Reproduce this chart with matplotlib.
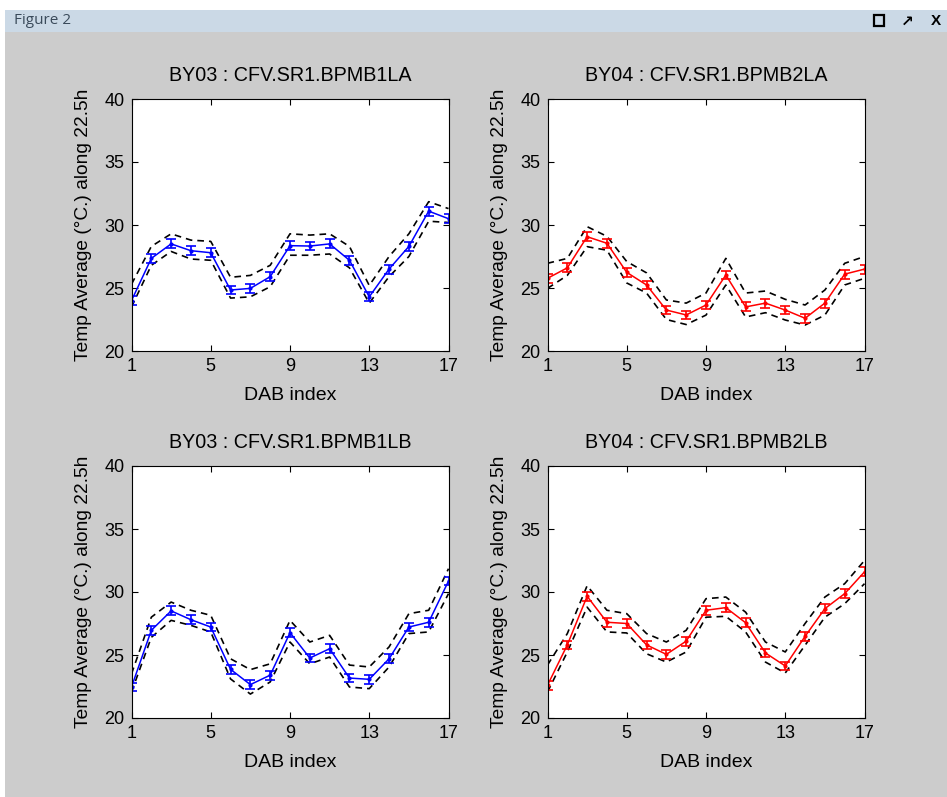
import numpy as np
import matplotlib
matplotlib.use("Agg")
import matplotlib.pyplot as plt
from matplotlib.patches import Rectangle

plt.rcParams['font.family'] = ['Liberation Sans', 'DejaVu Sans']

DAB = np.arange(1, 18)

TITLES = ["BY03 : CFV.SR1.BPMB1LA", "BY04 : CFV.SR1.BPMB2LA",
          "BY03 : CFV.SR1.BPMB1LB", "BY04 : CFV.SR1.BPMB2LB"]
COLORS = ["blue", "red", "blue", "red"]

# mean temperature per DAB, with upper / lower dashed envelope
mean_1la = [24.0, 27.35, 28.5, 27.96, 27.8, 24.84, 24.97, 25.9, 28.36, 28.33, 28.5, 27.2, 24.3, 26.5, 28.3, 31.1, 30.5]
upper_1la = [25.3, 28.3, 29.3, 28.8, 28.7, 25.85, 26.0, 26.8, 29.3, 29.2, 29.3, 28.3, 25.2, 27.5, 29.3, 31.85, 31.3]
lower_1la = [23.5, 26.8, 27.9, 27.3, 27.2, 24.2, 24.3, 25.1, 27.6, 27.6, 27.7, 26.6, 23.8, 25.9, 27.5, 30.3, 30.2]

mean_2la = [25.77, 26.6, 29.07, 28.55, 26.24, 25.24, 23.25, 22.86, 23.65, 26.03, 23.5, 23.8, 23.25, 22.6, 23.8, 26.1, 26.5]
upper_2la = [26.96, 27.35, 29.87, 29.1, 27.1, 26.2, 24.05, 23.8, 24.6, 27.35, 24.6, 24.76, 24.1, 23.65, 24.84, 26.96, 27.5]
lower_2la = [24.97, 26.0, 28.28, 28.0, 25.4, 24.6, 22.5, 22.1, 22.85, 25.24, 22.7, 23.04, 22.46, 22.06, 22.85, 25.24, 25.77]

mean_1lb = [22.46, 26.96, 28.5, 27.8, 27.22, 23.86, 22.65, 23.4, 26.77, 24.76, 25.5, 23.17, 23.07, 24.7, 27.22, 27.6, 30.87]
upper_1lb = [23.5, 28.0, 29.2, 28.55, 28.15, 24.7, 23.84, 24.3, 27.75, 26.03, 26.56, 24.2, 24.05, 25.64, 28.28, 28.55, 31.85]
lower_1lb = [22.06, 26.4, 27.75, 27.35, 26.83, 23.1, 21.9, 22.86, 26.03, 24.3, 24.84, 22.46, 22.33, 24.05, 26.7, 26.83, 29.87]

mean_2lb = [22.6, 25.8, 29.66, 27.6, 27.5, 25.8, 25.05, 26.1, 28.55, 28.76, 27.56, 25.16, 24.13, 26.48, 28.68, 29.87, 31.6]
upper_2lb = [24.2, 26.7, 30.5, 28.55, 28.28, 26.7, 26.03, 26.96, 29.47, 29.6, 28.4, 26.03, 25.24, 27.5, 29.6, 30.66, 32.5]
lower_2lb = [22.06, 25.24, 28.8, 26.83, 26.75, 25.1, 24.44, 25.24, 28.0, 28.07, 26.83, 24.44, 23.57, 25.77, 28.0, 29.07, 30.66]

# error bar half-widths
err = [0.35] * 17

MEANS = [mean_1la, mean_2la, mean_1lb, mean_2lb]
UPPERS = [upper_1la, upper_2la, upper_1lb, upper_2lb]
LOWERS = [lower_1la, lower_2la, lower_1lb, lower_2lb]

W, H = 947, 797
fig = plt.figure(figsize=(W / 100, H / 100), dpi=100)
fig.patch.set_facecolor("white")

# window chrome: gray client area + title bar
fig.add_artist(Rectangle((5 / W, 0), 1, 1 - 32 / H, transform=fig.transFigure,
                         facecolor="#cccccc", edgecolor="none", zorder=-10))
fig.add_artist(Rectangle((5 / W, 1 - 32 / H), 1, 22 / H, transform=fig.transFigure,
                         facecolor="#cbd9e6", edgecolor="none", zorder=-10))
fig.text(14 / W, 1 - 21 / H, "Figure 2", fontsize=11, color="#3a4a5a",
         va="center", ha="left", family=["Open Sans", "DejaVu Sans"])
fig.add_artist(Rectangle((874 / W, 1 - 26 / H), 10 / W, 11 / H, transform=fig.transFigure,
                         facecolor="none", edgecolor="black", lw=1.6))
fig.text(907 / W, 1 - 21 / H, "\u2197", fontsize=11, ha="center", va="center",
         family=["DejaVu Sans"], fontweight="bold")
fig.text(936 / W, 1 - 21 / H, "X", fontsize=11, ha="center", va="center", fontweight="bold")

lefts = [131.5, 547.5, 131.5, 547.5]
tops = [99, 99, 466, 466]
aw, ah = 317, 252

for k in range(4):
    ax = fig.add_axes([lefts[k] / W, 1 - (tops[k] + ah) / H, aw / W, ah / H])
    ax.plot(DAB, UPPERS[k], "k--", lw=1.2, dashes=(4, 3))
    ax.plot(DAB, LOWERS[k], "k--", lw=1.2, dashes=(4, 3))
    ax.errorbar(DAB, MEANS[k], yerr=err, color=COLORS[k], lw=1.1,
                capsize=3.5, elinewidth=1.2, capthick=1.2, marker=".", ms=4)
    ax.set_xlim(1, 17)
    ax.set_ylim(20, 40)
    ax.set_xticks([1, 5, 9, 13, 17])
    ax.set_yticks([20, 25, 30, 35, 40])
    ax.tick_params(direction="in", top=True, right=True, length=4, labelsize=13, pad=5)
    for s in ax.spines.values():
        s.set_linewidth(0.8)
    ax.set_title(TITLES[k], fontsize=14.2, pad=13)
    ax.set_xlabel("DAB index", fontsize=14, labelpad=9)
    ax.set_ylabel("Temp Average (\u00b0C.) along 22.5h", fontsize=13.8, labelpad=9)

fig.savefig("out.png", dpi=100)
